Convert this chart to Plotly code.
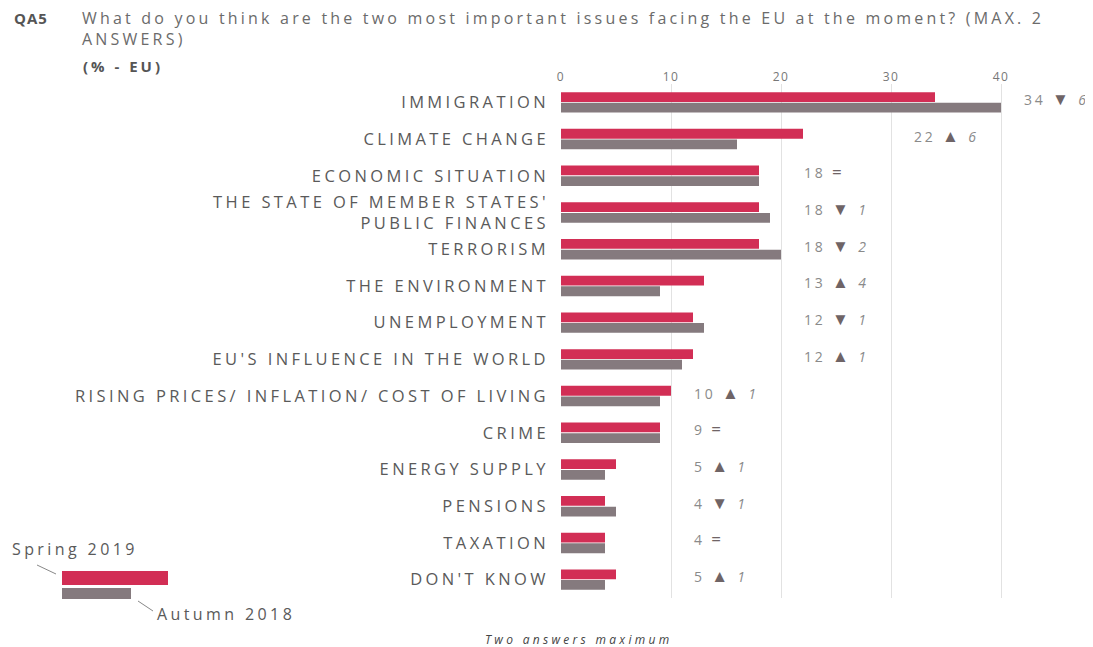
import math
import plotly.graph_objects as go

categories = [
    "IMMIGRATION", "CLIMATE CHANGE", "ECONOMIC SITUATION",
    "THE STATE OF MEMBER STATES'<br>PUBLIC FINANCES", "TERRORISM",
    "THE ENVIRONMENT", "UNEMPLOYMENT", "EU'S INFLUENCE IN THE WORLD",
    "RISING PRICES/ INFLATION/ COST OF LIVING", "CRIME", "ENERGY SUPPLY",
    "PENSIONS", "TAXATION", "DON'T KNOW",
]
spring_2019 = [34, 22, 18, 18, 18, 13, 12, 12, 10, 9, 5, 4, 4, 5]
autumn_2018 = [40, 16, 18, 19, 20, 9, 13, 11, 9, 9, 4, 5, 4, 4]
tick_values = [0, 10, 20, 30, 40]
series_names = ["Spring 2019", "Autumn 2018"]

RED = "#d22e55"
GREY = "#857a7e"
TXT = "#5a5a5a"
FONT = "Open Sans"

OFF = 8  # page body margin
W, H = 1093 - OFF, 647 - OFF
L, R, T, B = 561 - OFF, 4, 84 - OFF, 49
XMAX = 48
pw = W - L - R
ph = H - T - B


def px(x):
    return (x - OFF - L) / pw


def py(y):
    return 1 - (y - OFF - T) / ph


def ls(text, sp):
    return "<br>".join(f"<span style='letter-spacing:{sp}px'>{part}</span>"
                       for part in text.split("<br>"))


fig = go.Figure()
fig.add_trace(go.Bar(y=categories, x=spring_2019, orientation="h", name=series_names[0],
                     marker=dict(color=RED, line=dict(width=0)), hoverinfo="x+name"))
fig.add_trace(go.Bar(y=categories, x=autumn_2018, orientation="h", name=series_names[1],
                     marker=dict(color=GREY, line=dict(width=0)), hoverinfo="x+name"))

annotations = []
for cat, s, a in zip(categories, spring_2019, autumn_2018):
    d = s - a
    if d > 0:
        sym = "▲"
    elif d < 0:
        sym = "▼"
    else:
        sym = "="
    chg = "" if d == 0 else f" <i>{abs(d)}</i>"
    xpos = math.ceil(max(s, a) / 10) * 10 + 1.9
    text = ls(f"{s} <span style='color:#6f6466;font-size:17px'>{sym}</span>{chg}", 2.8)
    annotations.append(dict(x=xpos, y=cat, xref="x", yref="y", text=text, showarrow=False,
                            xanchor="left", yanchor="middle", yshift=4,
                            font=dict(family=FONT, size=14, color="#8a8a8a")))

# title block
annotations += [
    dict(x=px(12), y=py(18), xref="paper", yref="paper", text="<b>" + ls("QA5", 1) + "</b>",
         showarrow=False, xanchor="left", yanchor="middle",
         font=dict(family=FONT, size=15, color="#555555")),
    dict(x=px(80), y=py(29), xref="paper", yref="paper",
         text=ls("What do you think are the two most important issues facing the EU at the moment? (MAX. 2<br>ANSWERS)", 3.2),
         showarrow=False, xanchor="left", yanchor="middle", align="left",
         font=dict(family=FONT, size=16, color="#6b6b6b")),
    dict(x=px(81), y=py(66), xref="paper", yref="paper", text="<b>" + ls("(% - EU)", 3) + "</b>",
         showarrow=False, xanchor="left", yanchor="middle",
         font=dict(family=FONT, size=15, color="#555555")),
    dict(x=px(578), y=py(639), xref="paper", yref="paper",
         text="<i>" + ls("Two answers maximum", 3.3) + "</i>",
         showarrow=False, xanchor="center", yanchor="middle",
         font=dict(family=FONT, size=12, color="#444444")),
    dict(x=px(10), y=py(549), xref="paper", yref="paper", text=ls(series_names[0], 3.4),
         showarrow=False, xanchor="left", yanchor="middle",
         font=dict(family=FONT, size=16, color=TXT)),
    dict(x=px(155), y=py(614), xref="paper", yref="paper", text=ls(series_names[1], 3.4),
         showarrow=False, xanchor="left", yanchor="middle",
         font=dict(family=FONT, size=16, color=TXT)),
]

shapes = [
    dict(type="rect", xref="paper", yref="paper", x0=px(62), x1=px(168), y0=py(585), y1=py(571),
         fillcolor=RED, line=dict(width=0)),
    dict(type="rect", xref="paper", yref="paper", x0=px(62), x1=px(131), y0=py(599), y1=py(588),
         fillcolor=GREY, line=dict(width=0)),
    dict(type="line", xref="paper", yref="paper", x0=px(37), x1=px(56), y0=py(565), y1=py(574),
         line=dict(color="#888888", width=1)),
    dict(type="line", xref="paper", yref="paper", x0=px(138), x1=px(153), y0=py(601), y1=py(611),
         line=dict(color="#888888", width=1)),
]

fig.update_layout(
    width=W, height=H,
    margin=dict(l=L, r=R, t=T, b=B, autoexpand=False),
    paper_bgcolor="white", plot_bgcolor="white",
    barmode="group", bargap=0.42, bargroupgap=0.08,
    showlegend=False,
    font=dict(family=FONT, color=TXT),
    annotations=annotations, shapes=shapes,
)
fig.update_xaxes(range=[0, XMAX], side="top", tickvals=tick_values,
                 ticktext=[ls(str(v), 1.5) for v in tick_values], showgrid=True,
                 gridcolor="#e2e2e2", gridwidth=1, zeroline=False, showline=False,
                 tickfont=dict(family=FONT, size=12, color="#777777"), ticks="", fixedrange=True)
fig.update_yaxes(type="category", range=[len(categories) - 0.5, -0.5], showgrid=False,
                 tickvals=categories, ticktext=[ls(c, 3.4) for c in categories],
                 zeroline=False, showline=False, ticks="", ticklabelstandoff=11,
                 tickfont=dict(family=FONT, size=16.5, color=TXT), fixedrange=True)

fig.write_html("out.html")
